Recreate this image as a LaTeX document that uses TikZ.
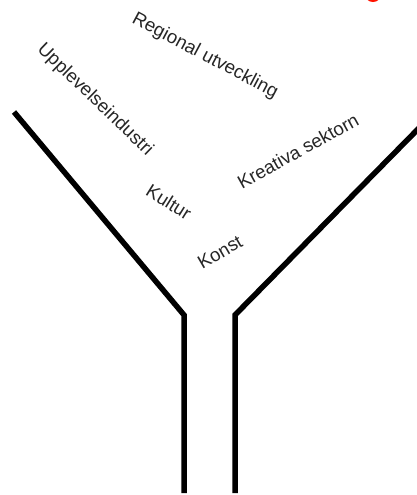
\documentclass[tikz,border=0pt]{standalone}
\usepackage{fontspec}
\setmainfont{Liberation Sans}
\begin{document}
\begin{tikzpicture}[x=1pt,y=-1pt,
  wall/.style={line width=5.5pt, black, line join=miter},
  lbl/.style={text=black!85, font=\fontsize{18.7}{20}\selectfont, inner sep=0pt}]
\useasboundingbox (0,0) rectangle (417,495);
\fill[white] (0,0) rectangle (417,495);
% red fragment at top edge
\draw[red!85!orange, line width=3pt] (373,-6.5) circle (7);
% funnel walls
\coordinate (l1) at (14,112);
\coordinate (l2) at (184,315);
\coordinate (l3) at (184,493);
\coordinate (r1) at (421,126);
\coordinate (r2) at (235,315);
\coordinate (r3) at (235,493);
\draw[wall] (l1) -- (l2) -- (l3);
\draw[wall] (r1) -- (r2) -- (r3);
% labels
\node[lbl, rotate=-28] (reg) at (205,56) {Regional utveckling};
\node[lbl, rotate=-44] (upp) at (95,100) {Upplevelseindustri};
\node[lbl, rotate=29] (kre) at (298,151) {Kreativa sektorn};
\node[lbl, rotate=-32] (kul) at (169,202) {Kultur};
\node[lbl, rotate=30] (kon) at (220,252) {Konst};
\end{tikzpicture}
\end{document}
